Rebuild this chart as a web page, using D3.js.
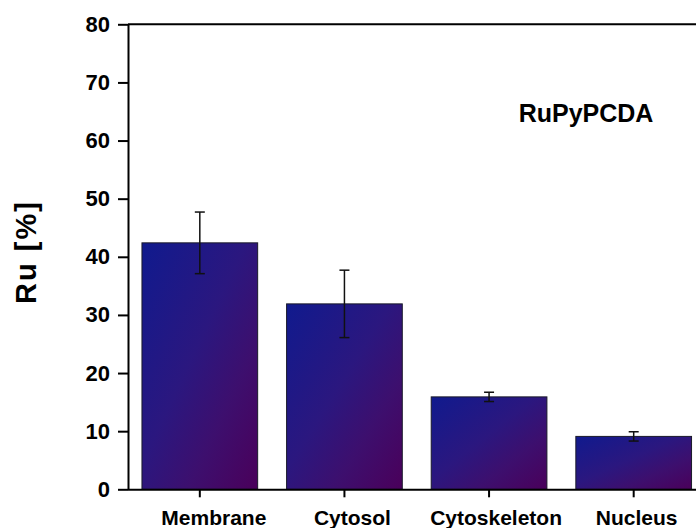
<!DOCTYPE html>
<html>
<head>
<meta charset="utf-8">
<script src="https://cdn.jsdelivr.net/npm/d3@7"></script>
<style>
  html, body { margin: 0; padding: 0; background: #fff; }
  svg { display: block; font-family: "Liberation Sans", Arial, Helvetica, sans-serif; }
</style>
</head>
<body>
<svg id="chart" width="696" height="528"></svg>
<script>
// Ruthenium distribution across cell fractions
const categories = ["Membrane", "Cytosol", "Cytoskeleton", "Nucleus"];
const ruPercent  = [42.4, 31.9, 15.9, 9.1];
const ruError    = [5.3, 5.8, 0.8, 0.8];
const yTicks     = [0, 10, 20, 30, 40, 50, 60, 70, 80];
const compound   = "RuPyPCDA";
const yTitle     = "Ru [%]";

const W = 696, H = 528;
const plotLeft = 128, plotTop = 24.3, plotBottom = 489.3;
const svg = d3.select("#chart");

const x = d3.scaleBand()
  .domain(categories)
  .range([127.5, 706])
  .paddingInner(0.2)
  .paddingOuter(0.1);

const y = d3.scaleLinear()
  .domain([0, 80])
  .range([plotBottom, plotTop]);

// diagonal blue-to-purple fill used by every bar
const defs = svg.append("defs");
const grad = defs.append("linearGradient")
  .attr("id", "barFill")
  .attr("x1", 0).attr("y1", 0)
  .attr("x2", 1).attr("y2", 1);
grad.append("stop").attr("offset", 0).attr("stop-color", "#101a8e");
grad.append("stop").attr("offset", 0.45).attr("stop-color", "#2b177f");
grad.append("stop").attr("offset", 0.7).attr("stop-color", "#3d0f6e");
grad.append("stop").attr("offset", 1).attr("stop-color", "#4a005a");

// bars
svg.append("g").selectAll("rect")
  .data(categories)
  .join("rect")
  .attr("x", d => x(d))
  .attr("y", (d, i) => y(ruPercent[i]))
  .attr("width", x.bandwidth())
  .attr("height", (d, i) => y(0) - y(ruPercent[i]))
  .attr("fill", "url(#barFill)")
  .attr("stroke", "#1a1a2a")
  .attr("stroke-width", 1);

// error bars
const capW = 10;
const eb = svg.append("g")
  .attr("stroke", "#111")
  .attr("stroke-width", 1.5)
  .attr("fill", "none");
categories.forEach((c, i) => {
  const cx = x(c) + x.bandwidth() / 2;
  const hi = y(ruPercent[i] + ruError[i]);
  const lo = y(ruPercent[i] - ruError[i]);
  eb.append("line").attr("x1", cx).attr("x2", cx).attr("y1", hi).attr("y2", lo);
  eb.append("line").attr("x1", cx - capW / 2).attr("x2", cx + capW / 2).attr("y1", hi).attr("y2", hi);
  eb.append("line").attr("x1", cx - capW / 2).attr("x2", cx + capW / 2).attr("y1", lo).attr("y2", lo);
});

// left axis
const yAxis = svg.append("g")
  .attr("transform", `translate(${plotLeft},0)`)
  .call(d3.axisLeft(y).tickValues(yTicks).tickSize(10).tickSizeOuter(0).tickPadding(8));
yAxis.selectAll("path, line").attr("stroke", "#000").attr("stroke-width", 2);
yAxis.selectAll("text")
  .attr("fill", "#000")
  .style("font-size", "22px")
  .style("font-weight", "bold");

// bottom axis
const xAxis = svg.append("g")
  .attr("transform", `translate(0,${plotBottom})`)
  .call(d3.axisBottom(x).tickSize(8).tickSizeOuter(0).tickFormat(""));
xAxis.selectAll("path, line").attr("stroke", "#000").attr("stroke-width", 2);

// top frame line
svg.append("line")
  .attr("x1", plotLeft).attr("x2", W)
  .attr("y1", plotTop).attr("y2", plotTop)
  .attr("stroke", "#000").attr("stroke-width", 2);

// category labels, nudged slightly right of their ticks
const labelNudge = [14, 8, 7, 3];
svg.append("g").selectAll("text")
  .data(categories)
  .join("text")
  .attr("x", (d, i) => x(d) + x.bandwidth() / 2 + labelNudge[i])
  .attr("y", 525)
  .attr("text-anchor", "middle")
  .style("font-size", "21px")
  .style("font-weight", "bold")
  .text(d => d);

// y axis title
svg.append("text")
  .attr("transform", "translate(36,252) rotate(-90)")
  .attr("text-anchor", "middle")
  .style("font-size", "29px")
  .style("font-weight", "bold")
  .style("letter-spacing", "2px")
  .text(yTitle);

// compound label
svg.append("text")
  .attr("x", 586)
  .attr("y", 121.5)
  .attr("text-anchor", "middle")
  .style("font-size", "25px")
  .style("font-weight", "bold")
  .text(compound);
</script>
</body>
</html>
